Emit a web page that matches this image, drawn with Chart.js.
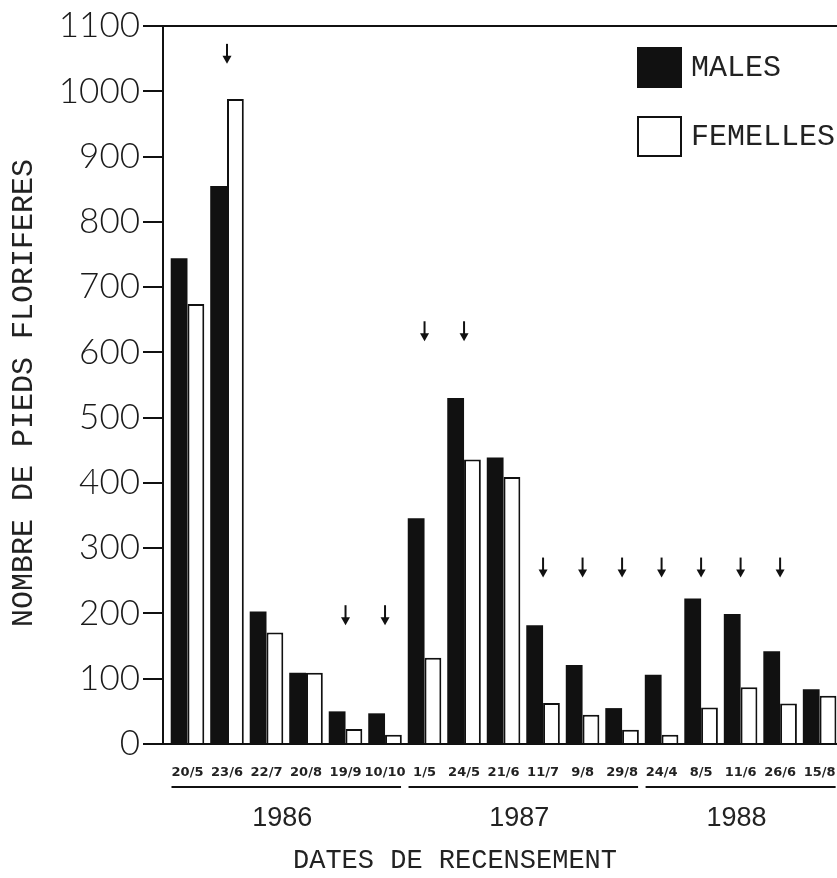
<!DOCTYPE html>
<html>
<head>
<meta charset="utf-8">
<script src="https://cdn.jsdelivr.net/npm/chart.js@4/dist/chart.umd.min.js"></script>
<style>
  html, body { margin: 0; padding: 0; background: #fff; overflow: hidden; }
  #wrap { position: relative; width: 837px; height: 878px; }
</style>
</head>
<body>
<div id="wrap"><canvas id="c" width="837" height="878"></canvas></div>
<script>
// Census dates (1986, 1987, 1988)
const dates = ['20/5', '23/6', '22/7', '20/8', '19/9', '10/10',
               '1/5', '24/5', '21/6', '11/7', '9/8', '29/8',
               '24/4', '8/5', '11/6', '26/6', '15/8'];
// Flowering plants counted per census
const males    = [744, 855, 203, 109, 50, 47, 346, 530, 439, 182, 121, 55, 106, 223, 199, 142, 84];
const femelles = [674, 988, 171, 109, 23, 14, 132, 436, 409, 63, 45, 22, 14, 56, 87, 62, 74];
// Y axis tick values
const yTickValues = [0, 100, 200, 300, 400, 500, 600, 700, 800, 900, 1000, 1100];
// Years and the census indices they cover
const years     = ['1986', '1987', '1988'];
const yearFirst = [0, 6, 12];
const yearLast  = [5, 11, 16];
// Arrow markers: census index and the value the arrow tip points at
const arrowIdx = [1, 4, 5, 6, 7, 9, 10, 11, 12, 13, 14, 15];
const arrowTip = [1042, 182, 182, 617, 617, 255, 255, 255, 255, 255, 255, 255];

const ink = '#111';

const decor = {
  id: 'decor',
  afterDraw(chart) {
    const { ctx, chartArea: a, scales: { x, y } } = chart;
    ctx.save();
    ctx.strokeStyle = ink;
    ctx.fillStyle = ink;

    // top frame line
    ctx.lineWidth = 2;
    ctx.beginPath();
    ctx.moveTo(a.left, a.top);
    ctx.lineTo(a.right, a.top);
    ctx.stroke();

    // arrows
    arrowIdx.forEach((idx, k) => {
      const px = x.getPixelForValue(idx);
      const py = y.getPixelForValue(arrowTip[k]);
      ctx.lineWidth = 2;
      ctx.beginPath();
      ctx.moveTo(px, py - 20);
      ctx.lineTo(px, py - 6);
      ctx.stroke();
      ctx.beginPath();
      ctx.moveTo(px - 4.5, py - 8);
      ctx.lineTo(px + 4.5, py - 8);
      ctx.lineTo(px, py);
      ctx.closePath();
      ctx.fill();
    });

    // year groups with underline
    ctx.font = '27px "Liberation Sans"';
    ctx.textAlign = 'center';
    ctx.textBaseline = 'middle';
    ctx.fillStyle = '#222';
    years.forEach((yr, k) => {
      const x0 = x.getPixelForValue(yearFirst[k]) - 16;
      const x1 = Math.min(x.getPixelForValue(yearLast[k]) + 16, chart.width);
      ctx.lineWidth = 2;
      ctx.beginPath();
      ctx.moveTo(x0, 787);
      ctx.lineTo(x1, 787);
      ctx.stroke();
      const xm = (x.getPixelForValue(yearFirst[k]) + x.getPixelForValue(yearLast[k])) / 2 - 4;
      ctx.fillText(yr, xm, 819);
    });

    // axis titles
    ctx.font = '27px "Liberation Mono"';
    ctx.fillText('DATES DE RECENSEMENT', 455, 861);
    ctx.save();
    ctx.translate(24, 393);
    ctx.rotate(-Math.PI / 2);
    ctx.font = '30px "Liberation Mono"';
    ctx.fillText('NOMBRE DE PIEDS FLORIFERES', 0, 0);
    ctx.restore();

    // legend
    ctx.textAlign = 'left';
    ctx.font = '30px "Liberation Mono"';
    chart.data.datasets.forEach((ds, k) => {
      const top = 47 + k * 69;
      ctx.fillStyle = ds.backgroundColor;
      ctx.fillRect(637, top, 45, 41);
      if (ds.borderWidth) {
        ctx.lineWidth = 2;
        ctx.strokeStyle = ds.borderColor;
        ctx.strokeRect(638, top + 1, 43, 39);
      }
      ctx.fillStyle = '#222';
      ctx.fillText(ds.label, 691, top + 21);
    });
    ctx.restore();
  }
};

new Chart(document.getElementById('c'), {
  type: 'bar',
  data: {
    datasets: [
      { label: 'MALES', data: males.map((v, i) => ({ x: i, y: v })),
        backgroundColor: ink, borderWidth: 0 },
      { label: 'FEMELLES', data: femelles.map((v, i) => ({ x: i, y: v })),
        backgroundColor: '#fff', borderColor: ink, borderWidth: 2 }
    ]
  },
  options: {
    responsive: false,
    animation: false,
    devicePixelRatio: 1,
    categoryPercentage: 0.85,
    barPercentage: 1,
    layout: { padding: { top: 26, right: 0, bottom: 0, left: 0 } },
    plugins: { legend: { display: false }, tooltip: { enabled: false } },
    scales: {
      x: {
        type: 'linear',
        min: -0.62,
        max: 16.44,
        offset: false,
        afterBuildTicks: s => { s.ticks = dates.map((d, i) => ({ value: i })); },
        ticks: {
          callback: v => dates[v],
          font: { family: 'DejaVu Sans', size: 13, weight: 'bold' },
          color: '#222',
          padding: 21,
          maxRotation: 0,
          autoSkip: false
        },
        grid: { display: false, drawTicks: false },
        border: { color: ink, width: 2 },
        afterFit: s => { s.height = 134; s.paddingLeft = 0; s.paddingRight = 0; }
      },
      y: {
        min: 0,
        max: 1100,
        afterBuildTicks: s => { s.ticks = yTickValues.map(v => ({ value: v })); },
        ticks: {
          callback: v => String(v),
          font: { family: 'Lato', size: 35, weight: 300 },
          color: '#1a1a1a',
          padding: 3
        },
        grid: { drawOnChartArea: false, tickLength: 20, color: ink, lineWidth: 2 },
        border: { color: ink, width: 2 },
        afterFit: s => { s.width = 163; s.paddingTop = 0; s.paddingBottom = 0; }
      }
    }
  },
  plugins: [decor]
});
</script>
</body>
</html>
